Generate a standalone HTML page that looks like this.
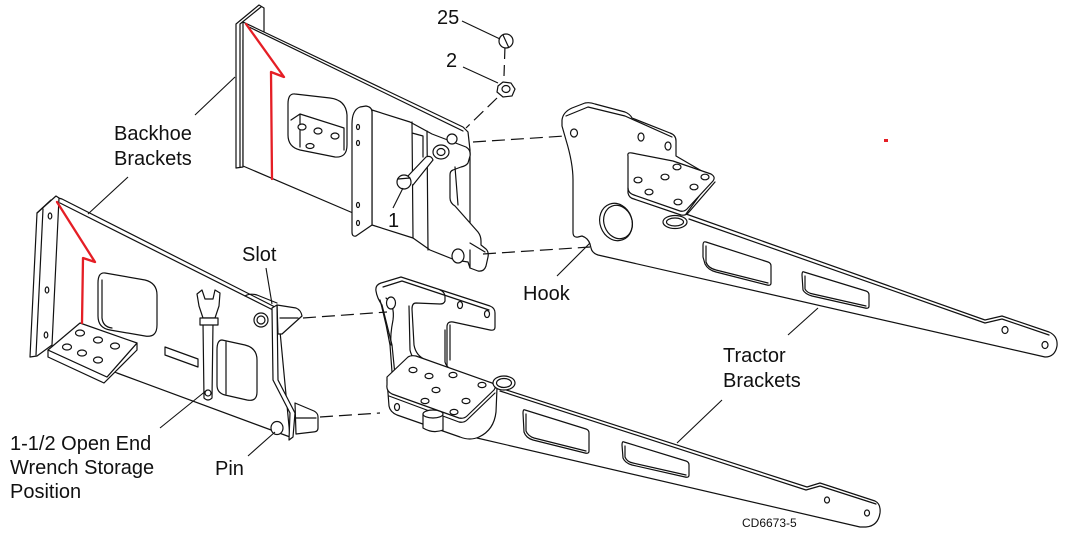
<!DOCTYPE html>
<html><head><meta charset="utf-8">
<style>
html,body{margin:0;padding:0;background:#fff;}
svg{display:block;}
text{font-family:"Liberation Sans",Arial,sans-serif;fill:#111;font-size:20px;}
</style></head><body>
<svg width="1066" height="540" viewBox="0 0 1066 540" xmlns="http://www.w3.org/2000/svg">
<rect width="1066" height="540" fill="#fff"/>
<g fill="#fff" stroke="#111" stroke-width="1.2" stroke-linejoin="round" stroke-linecap="round">

<!-- ===== Upper tractor bracket ===== -->
<path d="M562,120 Q563,112 572,108 L585,103 Q590,102 595,104 L625,112 Q630,114 632,118 L670,133 Q676,135 676,141 L676,156 L700,170 L713,177 L686,214 L985,320 L1002,316 L1049,332 Q1058,336 1057,346 Q1055,357 1045,357 L598,255 Q592,253 591,248 L590,244 Q588,238 582,236 L578,237 Q573,238 573,232 L573,180 Q573,163 566,140 L562,126 Z"/>
<path d="M566,116 L588,107 L625,116 L672,137" fill="none"/>
<path d="M689,219 L985,323 L1002,319 L1049,335" fill="none"/>
<path d="M628,156 Q627,152 632,153 L673,161 L711,174 Q716,177 713,181 L687,209 Q684,212 680,211 L634,195 Q628,193 628,188 Z"/>
<path d="M628,188 L628,193 Q629,198 634,199 L681,215 Q686,216 689,212 L715,182" fill="none"/>
<ellipse cx="574" cy="133" rx="3.5" ry="4"/>
<ellipse cx="641" cy="137" rx="3" ry="4"/>
<ellipse cx="668" cy="146" rx="3" ry="4"/>
<ellipse cx="638" cy="180" rx="4" ry="2.8"/>
<ellipse cx="665" cy="177" rx="4" ry="2.8"/>
<ellipse cx="677" cy="167" rx="4" ry="2.8"/>
<ellipse cx="705" cy="177" rx="4" ry="2.8"/>
<ellipse cx="694" cy="187" rx="4" ry="2.8"/>
<ellipse cx="649" cy="192" rx="4" ry="2.8"/>
<ellipse cx="678" cy="202" rx="4" ry="2.8"/>
<ellipse cx="616" cy="222" rx="16" ry="19" transform="rotate(-20 616 222)"/>
<ellipse cx="618" cy="222" rx="14" ry="17" transform="rotate(-20 618 222)" fill="none"/>
<ellipse cx="675" cy="222" rx="12" ry="6.5"/>
<ellipse cx="675" cy="222" rx="8.5" ry="4"/>
<path d="M706,242 L768,262 Q771,263 771,266 L771,283 Q771,286 767,285 L716,272 Q708,270 705,264 L703,257 L703,245 Q703,241 706,242 Z"/>
<path d="M706,246 L706,262 Q708,268 716,270 L768,283" fill="none"/>
<path d="M804,272 L866,291 Q869,292 869,295 L869,306 Q869,309 865,308 L812,296 Q805,294 803,290 L802,275 Q802,271 804,272 Z"/>
<path d="M805,276 L805,289 Q807,293 813,294 L866,306" fill="none"/>
<ellipse cx="1005" cy="330" rx="3" ry="3.5"/>
<ellipse cx="1045" cy="345" rx="3" ry="3.5"/>

<!-- ===== Lower tractor bracket ===== -->
<path d="M497,387 L807,487 L820,483 L875,501 Q881,504 880,513 Q878,526 866,527 L860,527 L477,438 Z"/>
<path d="M500,391 L806,490 L820,486 L876,504" fill="none"/>
<path d="M525,410 L586,429 Q589,430 589,433 L589,451 Q589,454 585,453 L533,440 Q526,438 524,432 L523,413 Q523,409 525,410 Z"/>
<path d="M526,414 L526,431 Q528,436 534,438 L586,451" fill="none"/>
<path d="M624,442 L686,461 Q689,462 689,465 L689,475 Q689,478 685,477 L632,465 Q625,463 623,458 L622,445 Q622,441 624,442 Z"/>
<path d="M625,446 L625,457 Q627,462 633,463 L686,475" fill="none"/>
<ellipse cx="827" cy="500" rx="2.5" ry="3"/>
<ellipse cx="867" cy="513" rx="2.5" ry="3"/>
<!-- hook plate -->
<path d="M376,291 Q375,285 381,283 L401,277 L490,306 Q495,308 495,313 L495,327 Q495,331 490,330 L453,322 Q447,321 447,327 L447,372 L395,375 L392,345 L382,305 Q377,298 376,291 Z"/>
<path d="M383,287 L402,281 L489,310" fill="none"/>
<path d="M440,290 Q445,292 445,297 L445,301 Q444,304 440,304 L416,303 Q412,303 412,309 L414,345 Q416,356 426,360" fill="none"/>
<path d="M409,306 L410,350 Q412,360 422,364" fill="none"/>
<path d="M380,300 Q386,322 390,345 L392,372" fill="none"/>
<path d="M386,298 Q395,305 393,320 Q390,335 391,345" fill="none"/>
<path d="M450,325 L450,360 M445,330 L445,362 Q447,369 456,371" fill="none"/>
<ellipse cx="391" cy="303" rx="4.5" ry="6"/>
<ellipse cx="460" cy="305" rx="2.5" ry="3.5"/>
<ellipse cx="487" cy="314" rx="2.5" ry="3.5"/>
<!-- box -->
<path d="M387,380 L389,406 Q390,412 397,415 L460,437 Q470,441 479,437 Q494,430 496,412 L497,388 Z"/>
<path d="M389,396 L459,422 Q464,423 467,420 L495,393" fill="none"/>
<path d="M423,414 L423,428 Q433,434 443,430 L443,416" />
<ellipse cx="433" cy="414" rx="10" ry="4"/>
<ellipse cx="397" cy="407" rx="2.5" ry="3.5"/>
<path d="M387,377 L408,357 Q411,355 416,356 L492,383 Q497,386 494,390 L467,416 Q464,419 459,418 L392,394 Q386,391 387,385 Z"/>
<ellipse cx="413" cy="370" rx="4" ry="2.6"/>
<ellipse cx="429" cy="376" rx="4" ry="2.6"/>
<ellipse cx="453" cy="375" rx="4" ry="2.6"/>
<ellipse cx="482" cy="385" rx="4" ry="2.6"/>
<ellipse cx="436" cy="390" rx="4" ry="2.6"/>
<ellipse cx="425" cy="401" rx="4" ry="2.6"/>
<ellipse cx="466" cy="401" rx="4" ry="2.6"/>
<ellipse cx="454" cy="412" rx="4" ry="2.6"/>
<ellipse cx="504" cy="383" rx="11" ry="7"/>
<ellipse cx="504" cy="383" rx="7.5" ry="4.5"/>

<!-- ===== Upper backhoe bracket ===== -->
<path d="M236,24 L259,5 L264,8 L264,40 L243,40 L243,167 L236,168 Z"/>
<path d="M240,167 L240,24 L261,7" fill="none"/>
<path d="M243,22 L463,127 L468,132 L470,150 L470,250 L353,213 L243,166 Z"/>
<path d="M247,26 L463,131" fill="none"/>
<path d="M295,94 L330,98 Q346,100 347,115 L347,145 Q347,158 335,157 L300,150 Q288,147 288,135 L288,104 Q288,93 295,94 Z"/>
<path d="M291,120 L300,114 L344,128 L344,150 M300,114 L300,147" fill="none"/>
<ellipse cx="302" cy="127" rx="4" ry="3"/>
<ellipse cx="318" cy="131" rx="4" ry="3"/>
<ellipse cx="335" cy="136" rx="4" ry="3"/>
<ellipse cx="310" cy="146" rx="4" ry="2.5"/>
<!-- red arrow upper -->
<path d="M246,24 L284,77 L271,72 L272,179" fill="none" stroke="#e51e25" stroke-width="2.3"/>
<!-- bracket -->
<path d="M372,110 L410,122 L432,134 L466,147 Q471,150 470,156 L468,163 Q466,166 461,167 L453,170 Q450,171 450,175 L450,198 Q450,203 455,206 L478,232 Q481,236 481,241 L481,245 L486,249 Q489,252 488,257 L486,266 Q484,272 478,271 L470,268 L468,262 L455,260 L430,250 L413,238 L372,225 Z"/>
<path d="M352,124 Q352,110 360,107 L366,106 Q372,107 372,112 L372,225 L356,236 Q352,237 352,232 Z"/>
<ellipse cx="358" cy="127" rx="1.5" ry="2.5"/>
<ellipse cx="358" cy="143" rx="1.5" ry="2.5"/>
<ellipse cx="358" cy="205" rx="1.5" ry="2.5"/>
<ellipse cx="358" cy="223" rx="1.5" ry="2.5"/>
<path d="M412,122 L413,238 M427,131 L428,250 M412,133 L423,136 L423,157" fill="none"/>
<path d="M455,167 L458,205 M470,243 L485,252 M470,250 L470,268" fill="none"/>
<path d="M407,177 L426,157 Q431,155 433,160 L413,185"/>
<ellipse cx="404" cy="182" rx="7" ry="7"/>
<path d="M398,179 L410,178" fill="none"/>
<ellipse cx="441" cy="152" rx="8" ry="7"/>
<ellipse cx="441" cy="152" rx="4" ry="3.5"/>
<ellipse cx="452" cy="139" rx="5" ry="5"/>
<ellipse cx="458" cy="256" rx="6" ry="7"/>

<!-- ===== Lower backhoe bracket ===== -->
<path d="M55,197 L62,199 L273,306 L278,310 L290,437 L117,373 L50,345 Z"/>
<path d="M60,203 L273,310" fill="none"/>
<path d="M30,357 L37,213 L56,196 L59,198 L52,345 L37,356 Z"/>
<path d="M37,213 L51,200 M43,209 L36,355" fill="none"/>
<ellipse cx="50" cy="216" rx="1.8" ry="3"/>
<ellipse cx="47" cy="290" rx="1.8" ry="3"/>
<ellipse cx="46" cy="335" rx="1.8" ry="3"/>
<path d="M105,273 L145,280 Q157,283 157,295 L157,325 Q157,338 145,336 L110,330 Q98,328 98,316 L98,283 Q98,272 105,273 Z"/>
<path d="M102,280 L102,318 Q103,327 112,328" fill="none"/>
<!-- foot plate -->
<path d="M48,350 L48,357 L104,383 L137,350 L137,343 L107,377 Z"/>
<path d="M48,350 L80,323 L137,343 L107,377 Z"/>
<ellipse cx="80" cy="333" rx="4.5" ry="3"/>
<ellipse cx="98" cy="340" rx="4.5" ry="3"/>
<ellipse cx="115" cy="346" rx="4.5" ry="3"/>
<ellipse cx="67" cy="347" rx="4.5" ry="3"/>
<ellipse cx="82" cy="353" rx="4.5" ry="3"/>
<ellipse cx="98" cy="360" rx="4.5" ry="3"/>
<!-- red arrow lower -->
<path d="M57,202 L95,262 L83,258 L82,323" fill="none" stroke="#e51e25" stroke-width="2.3"/>
<!-- nameplate -->
<path d="M165,347 L198,359 L198,367 L165,355 Z"/>
<!-- second window -->
<path d="M222,340 L245,345 Q257,348 257,360 L257,392 Q257,402 247,400 L225,395 Q217,393 217,385 L217,350 Q217,340 222,340 Z"/>
<path d="M226,342 L226,394" fill="none"/>
<!-- wrench -->
<path d="M203,323 L213,323 L212,398 Q208,402 204,398 Z"/>
<ellipse cx="208" cy="393" rx="3" ry="3"/>
<path d="M203,318 L199,306 L197,294 L202,290 L205,299 L213,299 L215,290 L220,293 L219,306 L215,318 Z"/>
<path d="M200,318 L218,318 L218,325 L200,325 Z"/>
<!-- right bracket -->
<path d="M245,296 Q250,293 257,295 L277,303" fill="none"/>
<path d="M277,305 L296,308 Q301,310 302,316 L282,334 L278,334 Z"/>
<path d="M280,318 L298,318" fill="none"/>
<path d="M295,403 L314,411 Q318,413 318,417 L318,428 Q318,432 313,432 L296,434 Z"/>
<path d="M296,418 L316,418" fill="none"/>
<path d="M272,308 L277,305 L278,380 L295,413 L293,437 L289,440 L290,413 L273,380 Z"/>
<ellipse cx="261" cy="320" rx="7" ry="7"/>
<ellipse cx="261" cy="320" rx="4" ry="4"/>
<ellipse cx="277" cy="428" rx="6" ry="6.5"/>
</g>

<!-- dashed connectors -->
<g fill="none" stroke="#111" stroke-width="1.2" stroke-dasharray="13,6">
<path d="M473,142 L565,136"/>
<path d="M483,254 L590,247"/>
<path d="M303,318 L387,312"/>
<path d="M320,417 L380,413"/>
<path d="M505,46 L504,76"/>
<path d="M497,98 L466,128"/>
</g>

<!-- items 25 and 2 -->
<g fill="#fff" stroke="#111" stroke-width="1.2">
<ellipse cx="506" cy="41" rx="7" ry="7"/>
<path d="M503,35 L509,48" fill="none"/>
<path d="M498,86 L503,82 L511,83 L515,89 L512,96 L503,97 L497,92 Z"/>
<ellipse cx="506" cy="89" rx="4" ry="3.5"/>
</g>

<!-- leaders -->
<g fill="none" stroke="#111" stroke-width="1.1">
<path d="M462,21 L500,39"/>
<path d="M463,67 L498,83"/>
<path d="M393,208 L403,188"/>
<path d="M195,115 L235,77"/>
<path d="M128,177 L88,214"/>
<path d="M266,268 L272,304"/>
<path d="M557,276 L590,243"/>
<path d="M788,335 L818,308"/>
<path d="M722,400 L677,443"/>
<path d="M160,428 L207,390"/>
<path d="M248,456 L275,432"/>
</g>

<rect x="884" y="139" width="4" height="3" fill="#e51e25"/>

<text x="437" y="24">25</text>
<text x="446" y="67">2</text>
<text x="388" y="227">1</text>
<text x="114" y="140">Backhoe</text>
<text x="114" y="165">Brackets</text>
<text x="242" y="261">Slot</text>
<text x="523" y="300">Hook</text>
<text x="723" y="362">Tractor</text>
<text x="723" y="387">Brackets</text>
<text x="10" y="450">1-1/2 Open End</text>
<text x="10" y="474">Wrench Storage</text>
<text x="10" y="498">Position</text>
<text x="215" y="475">Pin</text>
<text x="742" y="527" style="font-size:12px">CD6673-5</text>
</svg>
</body></html>
